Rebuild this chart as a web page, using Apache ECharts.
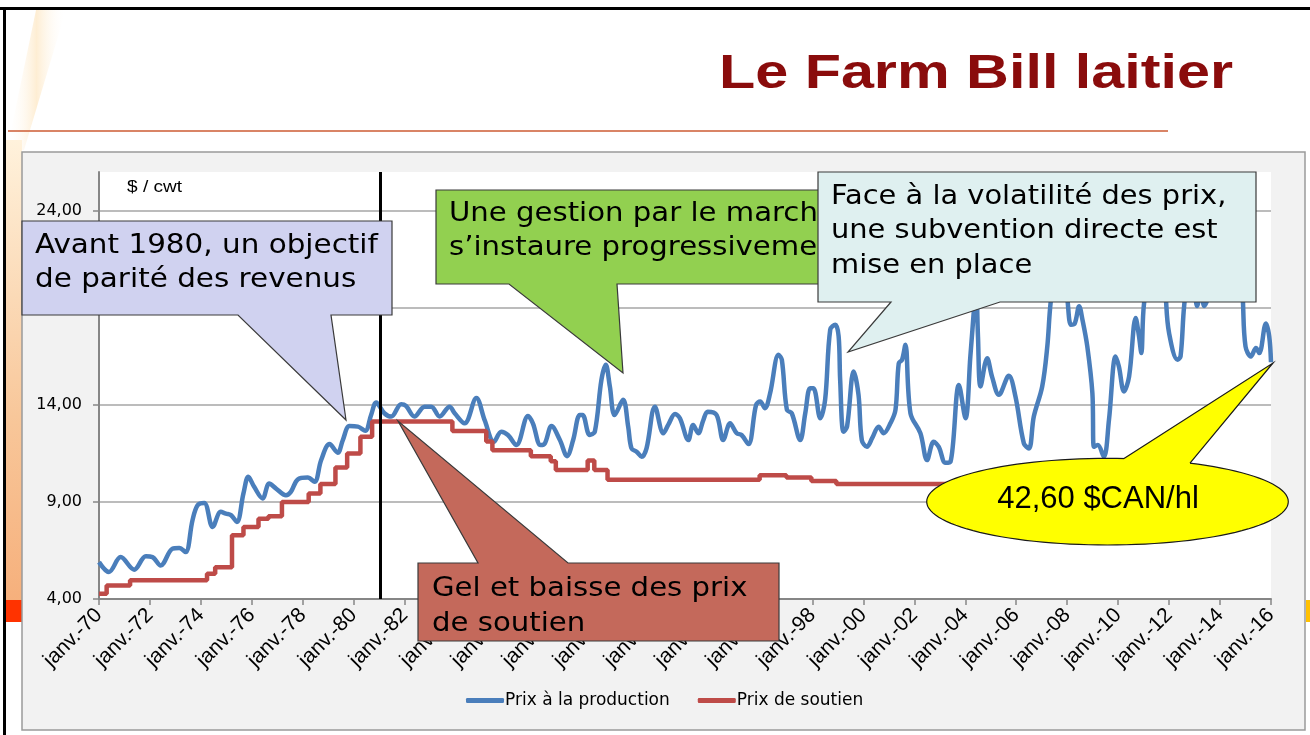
<!DOCTYPE html>
<html>
<head>
<meta charset="utf-8">
<title>Le Farm Bill laitier</title>
<script src="https://cdn.jsdelivr.net/npm/echarts@6/dist/echarts.min.js"></script>
<style>
  html, body { margin: 0; padding: 0; background: #fff; }
  #chart { width: 1310px; height: 735px; }
</style>
</head>
<body>
<div id="chart"></div>
<script>
// valeurs : [année décimale, $ / cwt]
const prixProduction = [
  [1970.00, 5.90], [1970.39, 5.39], [1970.85, 6.16], [1971.38, 5.51], [1971.84, 6.20], [1972.10, 6.16],
  [1972.42, 5.73], [1972.88, 6.59], [1973.15, 6.63], [1973.40, 6.42], [1973.67, 8.06], [1973.87, 8.83],
  [1974.13, 8.95], [1974.46, 7.71], [1974.78, 8.49], [1974.98, 8.40], [1975.18, 8.32], [1975.41, 7.97],
  [1975.67, 9.44], [1975.86, 10.30], [1976.09, 9.78], [1976.42, 9.18], [1976.68, 9.95], [1976.95, 9.69],
  [1977.34, 9.35], [1977.53, 9.52], [1977.80, 10.16], [1978.19, 10.26], [1978.46, 10.04], [1978.72, 11.16],
  [1979.05, 11.98], [1979.37, 11.54], [1979.57, 12.19], [1979.83, 12.91], [1980.16, 12.88], [1980.45, 12.67],
  [1980.68, 13.48], [1980.88, 14.12], [1981.20, 13.57], [1981.47, 13.40], [1981.86, 14.04], [1982.05, 13.95],
  [1982.38, 13.40], [1982.78, 13.91], [1983.04, 13.91], [1983.37, 13.40], [1983.76, 13.91], [1983.96, 13.57],
  [1984.35, 13.05], [1984.81, 14.35], [1985.14, 13.20], [1985.50, 12.10], [1985.79, 12.62], [1986.05, 12.45],
  [1986.38, 11.93], [1986.84, 13.43], [1987.03, 13.05], [1987.33, 11.93], [1987.50, 12.02], [1987.76, 12.91],
  [1988.09, 12.19], [1988.37, 11.36], [1988.61, 12.19], [1988.87, 13.48], [1988.98, 13.48], [1989.26, 12.45],
  [1989.46, 12.62], [1989.72, 15.29], [1989.89, 16.07], [1990.05, 14.95], [1990.24, 13.48], [1990.57, 14.26],
  [1990.77, 12.88], [1990.90, 11.76], [1991.10, 11.59], [1991.30, 11.33], [1991.49, 11.76], [1991.82, 13.91],
  [1992.15, 12.54], [1992.34, 12.97], [1992.61, 13.53], [1992.80, 13.31], [1993.13, 12.19], [1993.32, 12.97],
  [1993.52, 12.54], [1993.72, 13.22], [1993.89, 13.65], [1994.24, 13.48], [1994.50, 12.19], [1994.77, 13.05],
  [1995.03, 12.54], [1995.22, 12.45], [1995.49, 11.98], [1995.79, 14.00], [1995.95, 14.17], [1996.14, 13.83],
  [1996.34, 14.60], [1996.67, 16.58], [1996.80, 16.33], [1997.00, 13.74], [1997.19, 13.57], [1997.52, 12.19],
  [1997.72, 13.57], [1997.91, 14.86], [1998.04, 14.86], [1998.31, 13.31], [1998.50, 14.26], [1998.70, 17.88],
  [1998.90, 18.13], [1999.03, 17.53], [1999.09, 15.29], [1999.22, 12.62], [1999.36, 12.88], [1999.62, 15.72],
  [1999.81, 14.52], [1999.94, 12.19], [2000.14, 11.84], [2000.35, 12.30], [2000.60, 12.88], [2000.80, 12.54],
  [2001.06, 13.05], [2001.26, 13.74], [2001.39, 16.15], [2001.52, 16.33], [2001.65, 17.10], [2001.85, 13.57],
  [2002.24, 12.54], [2002.50, 11.16], [2002.76, 12.10], [2002.96, 11.84], [2003.22, 11.02], [2003.42, 11.07],
  [2003.75, 15.03], [2004.01, 13.31], [2004.20, 16.50], [2004.36, 19.26], [2004.42, 20.50], [2004.50, 17.50],
  [2004.60, 14.95], [2004.86, 16.41], [2005.05, 15.46], [2005.32, 14.52], [2005.71, 15.50], [2005.97, 14.43],
  [2006.30, 12.02], [2006.50, 11.76], [2006.69, 13.40], [2007.02, 14.95], [2007.22, 17.01], [2007.35, 19.26],
  [2007.55, 21.00], [2007.72, 21.90], [2007.88, 21.40], [2008.02, 19.30], [2008.15, 18.13], [2008.30, 18.20],
  [2008.47, 19.08], [2008.60, 18.39], [2008.79, 17.01], [2008.99, 14.60], [2009.05, 11.84], [2009.20, 11.93],
  [2009.44, 11.33], [2009.64, 13.22], [2009.90, 16.50], [2010.03, 15.98], [2010.23, 14.69], [2010.43, 15.46],
  [2010.69, 18.48], [2010.82, 17.53], [2010.91, 16.67], [2011.02, 19.26], [2011.30, 20.80], [2011.55, 22.80],
  [2011.72, 24.10], [2011.88, 19.40], [2012.00, 17.70], [2012.33, 16.33], [2012.45, 16.50], [2012.59, 19.08],
  [2012.80, 21.20], [2012.98, 20.40], [2013.10, 19.10], [2013.25, 19.80], [2013.38, 19.10], [2013.60, 19.90],
  [2013.90, 21.80], [2014.15, 25.00], [2014.40, 24.00], [2014.70, 25.60], [2014.90, 19.30], [2015.00, 17.01],
  [2015.21, 16.50], [2015.41, 16.93], [2015.54, 16.67], [2015.80, 18.20], [2015.93, 17.53], [2016.00, 16.20]
];

// prix de soutien : [début du palier, valeur]
const prixSoutien = [
  [1970.00, 4.27], [1970.30, 4.70], [1971.22, 4.96], [1974.24, 5.30], [1974.56, 5.64], [1975.22, 7.28],
  [1975.67, 7.71], [1976.26, 8.14], [1976.65, 8.26], [1977.18, 9.00], [1978.23, 9.44], [1978.69, 9.92],
  [1979.28, 10.78], [1979.74, 11.50], [1980.26, 12.36], [1980.72, 13.14], [1983.87, 12.66], [1985.20, 12.12],
  [1985.44, 11.67], [1986.95, 11.36], [1987.73, 11.10], [1987.93, 10.64], [1989.18, 11.14], [1989.44, 10.64],
  [1989.96, 10.14], [1995.93, 10.38], [1996.98, 10.26], [1997.96, 10.08], [1998.94, 9.93], [2014.00, 9.93]
];

const tickLabels = [
  'janv.-70', 'janv.-72', 'janv.-74', 'janv.-76', 'janv.-78', 'janv.-80', 'janv.-82', 'janv.-84',
  'janv.-86', 'janv.-88', 'janv.-90', 'janv.-92', 'janv.-94', 'janv.-96', 'janv.-98', 'janv.-00',
  'janv.-02', 'janv.-04', 'janv.-06', 'janv.-08', 'janv.-10', 'janv.-12', 'janv.-14', 'janv.-16'
];

const seriesNames = ['Prix à la production', 'Prix de soutien'];
const dateGel = 1981.05;

const ARIAL = '"Liberation Sans", Arial, sans-serif';
const VERDANA = '"DejaVu Sans", Verdana, sans-serif';

// bulle : rectangle + pointe, en un seul contour
function bulle(points, fill, z) {
  return {
    type: 'polygon', z: z, silent: true,
    shape: { points: points },
    style: { fill: fill, stroke: '#3a3a3a', lineWidth: 1.2 }
  };
}
function texte(x, y, txt, font, opts) {
  opts = opts || {};
  return {
    type: 'text', x: x, y: y, z: opts.z || 20, silent: true,
    scaleX: opts.scaleX || 1,
    style: {
      text: txt, font: font, fill: opts.fill || '#000',
      align: opts.align || 'left', verticalAlign: 'middle',
      lineHeight: opts.lineHeight
    }
  };
}

// ellipse jaune
const ellipse = [];
for (let i = 0; i < 120; i++) {
  const a = i / 120 * Math.PI * 2;
  ellipse.push([1107.5 + 180.8 * Math.cos(a), 501.7 + 43.3 * Math.sin(a)]);
}

const chart = echarts.init(document.getElementById('chart'));

chart.setOption({
  animation: false,
  backgroundColor: '#fff',
  grid: {
    left: 99, right: 39, top: 172, bottom: 136,
    show: true, backgroundColor: '#fff', borderWidth: 0
  },
  legend: {
    data: seriesNames,
    left: 466, top: 692, padding: 0,
    icon: 'roundRect', itemWidth: 38, itemHeight: 5, itemGap: 28,
    textStyle: { fontFamily: VERDANA, fontSize: 17, color: '#000', padding: [0, 0, 0, -4] }
  },
  xAxis: {
    type: 'value', min: 1970, max: 2016, interval: 2,
    axisLine: { lineStyle: { color: '#868686', width: 2 } },
    axisTick: { show: true, length: 6, lineStyle: { color: '#868686', width: 1.5 } },
    splitLine: { show: false },
    axisLabel: {
      rotate: 45, margin: 13, color: '#000', fontFamily: ARIAL, fontSize: 21,
      formatter: v => tickLabels[Math.round((v - 1970) / 2)] || ''
    }
  },
  yAxis: {
    type: 'value', min: 4, max: 26, interval: 5,
    axisLine: { show: true, lineStyle: { color: '#868686', width: 2 } },
    axisTick: { show: true, length: 6, lineStyle: { color: '#868686', width: 1.5 } },
    splitLine: { show: true, showMinLine: false, showMaxLine: false, lineStyle: { color: '#a6a6a6', width: 1.5 } },
    axisLabel: {
      showMaxLabel: false, margin: 17, color: '#000', fontFamily: VERDANA, fontSize: 16,
      formatter: v => v.toFixed(2).replace('.', ',')
    }
  },
  series: [
    {
      name: seriesNames[0], type: 'line', data: prixProduction,
      smooth: 0.35, symbol: 'none', z: 3,
      lineStyle: { color: '#4a7ebb', width: 4.5 }, itemStyle: { color: '#4a7ebb' }
    },
    {
      name: seriesNames[1], type: 'line', data: prixSoutien,
      step: 'end', symbol: 'none', z: 4,
      lineStyle: { color: '#be4b48', width: 4.5 }, itemStyle: { color: '#be4b48' }
    },
    {
      // trait vertical noir (1981)
      type: 'line', data: [], z: 40,
      markLine: {
        silent: true, symbol: 'none', label: { show: false },
        lineStyle: { color: '#000', width: 3, type: 'solid' },
        data: [{ xAxis: dateGel }]
      }
    }
  ],
  graphic: [
    // décor de la diapositive
    { type: 'rect', z: -5, silent: true, shape: { x: 22, y: 152, width: 1283, height: 578 },
      style: { fill: '#f2f2f2', stroke: '#9a9a9a', lineWidth: 1.5 } },
    { type: 'polygon', z: -6, silent: true, shape: { points: [[36, 10], [66, 10], [24, 150], [7, 150]] },
      style: { fill: new echarts.graphic.LinearGradient(1, 0, 0, 0, [
        { offset: 0, color: 'rgba(255,255,255,0)' }, { offset: 0.5, color: 'rgba(252,205,130,0.35)' },
        { offset: 1, color: 'rgba(255,255,255,0)' }]) } },
    { type: 'rect', z: -6, silent: true, shape: { x: 6, y: 140, width: 16, height: 460 },
      style: { fill: new echarts.graphic.LinearGradient(0, 0, 0, 1, [
        { offset: 0, color: '#fff2dc' }, { offset: 0.6, color: '#f8c79a' }, { offset: 1, color: '#f6b07c' }]) } },
    { type: 'rect', z: -6, silent: true, shape: { x: 6, y: 600, width: 16, height: 22 }, style: { fill: '#ff3300' } },
    { type: 'rect', z: -6, silent: true, shape: { x: 1306, y: 600, width: 4, height: 22 }, style: { fill: '#ffc000' } },
    { type: 'rect', z: 50, silent: true, shape: { x: 0, y: 7, width: 1310, height: 3 }, style: { fill: '#000' } },
    { type: 'rect', z: 50, silent: true, shape: { x: 3, y: 7, width: 3, height: 728 }, style: { fill: '#000' } },
    { type: 'line', z: -4, silent: true, shape: { x1: 8, y1: 131, x2: 1168, y2: 131 },
      style: { stroke: '#cd5b33', lineWidth: 1.5 } },
    texte(719, 74, 'Le Farm Bill laitier', 'bold 49px ' + ARIAL, { fill: '#8a0c0c', scaleX: 1.21 }),
    texte(127, 188, '$ / cwt', '16px ' + ARIAL, { scaleX: 1.19 }),

    // bulles
    bulle([[22, 221], [392, 221], [392, 315], [331, 315], [346, 420], [238, 315], [22, 315]], '#d0d2f0', 10),
    texte(35, 263, 'Avant 1980, un objectif\nde parité des revenus', '27px ' + VERDANA, { scaleX: 1.09, lineHeight: 34, z: 11 }),

    bulle([[436, 190], [830, 190], [830, 284], [617, 284], [623, 373], [509, 284], [436, 284]], '#92d050', 12),
    texte(449, 231, 'Une gestion par le marché\ns’instaure progressivement', '27px ' + VERDANA, { scaleX: 1.08, lineHeight: 34, z: 13 }),

    bulle([[818, 172], [1256, 172], [1256, 302], [1000, 302], [848, 352], [891, 302], [818, 302]], '#dff0f0', 14),
    texte(831, 231, 'Face à la volatilité des prix,\nune subvention directe est\nmise en place', '27px ' + VERDANA, { scaleX: 1.07, lineHeight: 34.5, z: 15 }),

    bulle([[418, 563], [478, 563], [398, 421], [568, 563], [779, 563], [779, 641], [418, 641]], '#c4695b', 16),
    texte(432, 606, 'Gel et baisse des prix\nde soutien', '27px ' + VERDANA, { scaleX: 1.08, lineHeight: 35, z: 17 }),

    { type: 'polygon', z: 18, silent: true, shape: { points: ellipse },
      style: { fill: '#ffff00', stroke: '#1a1a1a', lineWidth: 1.2 } },
    { type: 'polygon', z: 19, silent: true,
      shape: { points: [[1124, 458.6], [1273, 363], [1190, 463.2], [1190, 472], [1124, 472]] },
      style: { fill: '#ffff00' } },
    { type: 'polyline', z: 19, silent: true,
      shape: { points: [[1124, 458.6], [1273, 363], [1190, 463.2]] },
      style: { stroke: '#1a1a1a', lineWidth: 1.2, fill: null } },
    texte(1098, 499, '42,60 $CAN/hl', '31px ' + ARIAL, { align: 'center', z: 20 })
  ]
});
</script>
</body>
</html>
